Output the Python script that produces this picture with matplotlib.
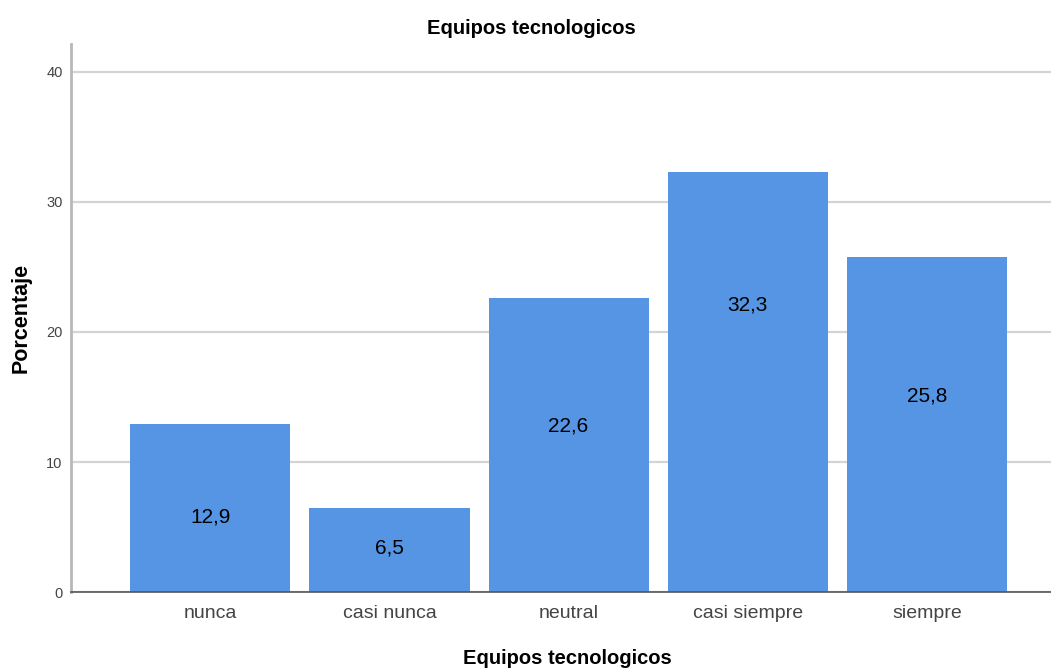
import numpy as np
import matplotlib
matplotlib.use("Agg")
import matplotlib.pyplot as plt

plt.rcParams['font.family'] = ['Liberation Sans', 'DejaVu Sans']

# data
categories = ['nunca', 'casi nunca', 'neutral', 'casi siempre', 'siempre']
percent = [12.9, 6.5, 22.6, 32.3, 25.8]
percent_labels = ['12,9', '6,5', '22,6', '32,3', '25,8']
# vertical spots of the value labels
label_y = [5.8, 3.4, 12.8, 22.1, 15.1]
y_ticks = [0, 10, 20, 30, 40]

fig = plt.figure(figsize=(10.51, 6.70), dpi=100)
ax = fig.add_axes([0.0676, 0.1164, 0.932, 0.8179])

x = np.arange(len(categories))
ax.bar(x, percent, width=0.894, color='#5595e3', edgecolor='none', zorder=2)

for xi, txt, yl in zip(x, percent_labels, label_y):
    ax.text(xi, yl, txt, ha='center', va='center', fontsize=15, color='black', zorder=3)

ax.set_xlim(-0.777, 4.69)
ax.set_ylim(0, 42.15)
ax.set_xticks(x)
ax.set_xticklabels(categories, fontsize=14, color='#444444')
ax.set_yticks(y_ticks)
ax.set_yticklabels([str(t) for t in y_ticks], fontsize=10.5, color='#444444')
ax.tick_params(axis='both', length=0)
ax.tick_params(axis='x', pad=9)
ax.tick_params(axis='y', pad=6)

ax.yaxis.grid(True, color='#d4d4d4', lw=1.6, zorder=1)
ax.set_axisbelow(True)

for s in ['top', 'right']:
    ax.spines[s].set_visible(False)
ax.spines['left'].set_color('#b8b8b8')
ax.spines['left'].set_linewidth(2)
ax.spines['bottom'].set_color('#555555')
ax.spines['bottom'].set_linewidth(1.2)

fig.text(0.506, 0.958, 'Equipos tecnologicos', ha='center', va='center',
         fontsize=14.5, fontweight='bold')
fig.text(0.54, 0.017, 'Equipos tecnologicos', ha='center', va='center',
         fontsize=14.5, fontweight='bold')
fig.text(0.02, 0.525, 'Porcentaje', ha='center', va='center', rotation=90,
         fontsize=15.5, fontweight='bold')

fig.savefig('out.png', dpi=100)
